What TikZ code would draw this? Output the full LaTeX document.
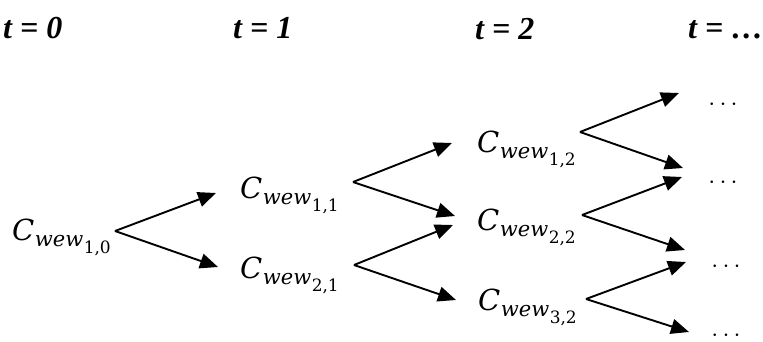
\RequirePackage{fix-cm}
\documentclass[tikz,border=0pt]{standalone}
\usepackage[no-math]{fontspec}
\newfontfamily\titlefont{Liberation Serif}
\newfontfamily\mfont{DejaVu Serif}
\usetikzlibrary{arrows.meta}
\newcommand\wlab[2]{\mfont{\itshape C}\kern0.5pt\raisebox{-6pt}{\fontsize{21}{21}\selectfont\itshape wew}\kern0.5pt\raisebox{-13pt}{\fontsize{17}{17}\selectfont#1,#2}}
\tikzset{
  ttl/.style={anchor=base west, inner sep=0pt, font=\titlefont\fontsize{32}{32}\selectfont\bfseries\itshape},
  lbl/.style={anchor=base west, inner sep=0pt, font=\fontsize{29}{29}\selectfont},
  dts/.style={anchor=center, inner sep=0pt, font=\fontsize{25}{25}\selectfont},
  arr/.style={line width=1.9pt, -{Triangle[length=18pt,width=15pt]}},
}
\begin{document}
\begin{tikzpicture}[x=1pt,y=-1pt]
\useasboundingbox (0,0) rectangle (763,341);
% titles
\node[ttl] (t0) at (3,38) {t = 0};
\node[ttl] (t1) at (233,38) {t = 1};
\node[ttl] (t2) at (475,39) {t = 2};
\node[ttl] (t3) at (688,38) {t = …};
% labels
\node[lbl] (w10) at (12,240) {\wlab{1}{0}};
\node[lbl] (w11) at (240,198) {\wlab{1}{1}};
\node[lbl] (w21) at (240,278) {\wlab{2}{1}};
\node[lbl] (w12) at (477,152) {\wlab{1}{2}};
\node[lbl] (w22) at (477,230) {\wlab{2}{2}};
\node[lbl] (w32) at (478,310) {\wlab{3}{2}};
% dots
\node[dts] (d1) at (723,105) {$\cdots$};
\node[dts] (d2) at (723,183) {$\cdots$};
\node[dts] (d3) at (726,267) {$\cdots$};
\node[dts] (d4) at (726,336) {$\cdots$};
% fork vertices
\coordinate (v10) at (115,231);
\coordinate (v11) at (353,182);
\coordinate (v21) at (354,265);
\coordinate (v12) at (580,132);
\coordinate (v22) at (582,215);
\coordinate (v32) at (586,299);
% tips
\coordinate (a1) at (216,193);
\coordinate (a2) at (218,267);
\coordinate (b1) at (452,143);
\coordinate (b2) at (455,216);
\coordinate (b3) at (453,225);
\coordinate (b4) at (456,300);
\coordinate (c1) at (679,93);
\coordinate (c2) at (683,168);
\coordinate (c3) at (682,177);
\coordinate (c4) at (685,250);
\coordinate (c5) at (686,262);
\coordinate (c6) at (689,332);
% arrows
\draw[arr] (v10) -- (a1);
\draw[arr] (v10) -- (a2);
\draw[arr] (v11) -- (b1);
\draw[arr] (v11) -- (b2);
\draw[arr] (v21) -- (b3);
\draw[arr] (v21) -- (b4);
\draw[arr] (v12) -- (c1);
\draw[arr] (v12) -- (c2);
\draw[arr] (v22) -- (c3);
\draw[arr] (v22) -- (c4);
\draw[arr] (v32) -- (c5);
\draw[arr] (v32) -- (c6);
\end{tikzpicture}
\end{document}
